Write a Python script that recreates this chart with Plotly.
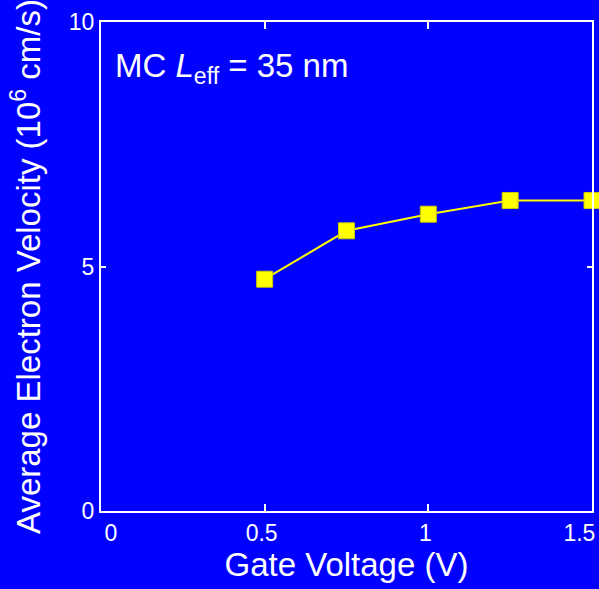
import plotly.graph_objects as go

gate_voltage = [0.5, 0.75, 1.0, 1.25, 1.5]
velocity = [4.74, 5.73, 6.07, 6.35, 6.35]
x_ticks = [0, 0.5, 1, 1.5]
NB = "\u00a0"
x_tick_labels = [NB * 4 + "0", "0.5", "1", "1.5" + NB * 3]
y_ticks = [0, 5, 10]
y_tick_labels = ["0", "5", "10"]

BG = "#0000FF"
FONT = "Liberation Sans, Arial, sans-serif"

fig = go.Figure()
fig.add_trace(go.Scatter(
    x=gate_voltage, y=velocity, mode="lines+markers",
    line=dict(color="#FFFF00", width=2),
    marker=dict(symbol="square", size=16, color="#FFFF00",
                line=dict(color="#C8C800", width=1)),
    cliponaxis=False,
))

fig.update_layout(
    width=599, height=589,
    margin=dict(l=101, r=7, t=22, b=78),
    paper_bgcolor=BG, plot_bgcolor=BG,
    font=dict(family=FONT, color="white", size=23),
    showlegend=False,
)
fig.update_xaxes(
    range=[0, 1.5], tickvals=x_ticks, ticktext=x_tick_labels,
    showgrid=False, zeroline=False, automargin=False,
    showline=True, linecolor="white", linewidth=2, mirror="ticks",
    ticks="inside", ticklen=7, tickwidth=1.5, tickcolor="white",
    tickfont=dict(size=23, color="white"),
    ticklabelshift=-3, ticklabeloverflow="allow",
    title=dict(text="Gate Voltage (V)", font=dict(size=33, color="white"), standoff=8),
)
fig.update_yaxes(
    range=[0, 10], tickvals=y_ticks, ticktext=y_tick_labels,
    showgrid=False, zeroline=False, automargin=False,
    showline=True, linecolor="white", linewidth=2, mirror="ticks",
    ticks="inside", ticklen=5, tickwidth=1.5, tickcolor="white",
    tickfont=dict(size=23, color="white"),
    ticklabeloverflow="allow",
    title=dict(text="Average Electron Velocity (10<sup>6</sup> cm/s)",
               font=dict(size=33, color="white"), standoff=18),
)
fig.add_annotation(
    x=0.025, y=0.906, xref="paper", yref="paper", xanchor="left", yanchor="middle",
    text="MC <i>L</i><sub>eff</sub> = 35 nm", showarrow=False,
    font=dict(size=33, color="white", family=FONT),
)
fig.write_html("out.html")
